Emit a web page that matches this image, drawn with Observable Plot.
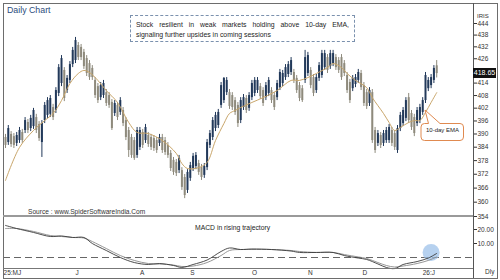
<!DOCTYPE html>
<html><head><meta charset="utf-8">
<script src="https://cdn.jsdelivr.net/npm/d3@7"></script>
<script src="https://cdn.jsdelivr.net/npm/@observablehq/plot@0.6"></script>
<style>
body{margin:0;background:#fff;}
#wrap{position:relative;width:500px;height:280px;overflow:hidden;font-family:"Liberation Sans",Arial,sans-serif;background:#fff;}
.abs{position:absolute;}
#wrap svg{position:absolute;}
</style></head><body>
<div id="wrap"></div>
<script>
// ---- data ----
const opens=[
388.4,386.1,389.8,388.8,385.7,387.0,390.7,391.6,395.3,392.5,
393.4,397.6,394.4,386.1,396.2,398.6,399.1,402.3,400.9,409.0,
413.8,420.2,410.4,415.3,423.1,425.1,432.7,431.7,429.2,426.1,
423.6,421.2,415.3,412.3,407.0,408.0,409.4,408.0,404.7,399.5,
403.3,400.0,400.9,396.2,391.6,388.4,387.0,380.3,383.9,390.7,
387.0,389.3,388.4,387.9,387.0,385.7,388.4,387.0,384.8,381.2,
378.1,377.2,373.6,373.6,370.6,365.0,370.2,374.5,375.4,376.7,
374.9,371.5,374.9,384.8,388.4,392.5,393.9,403.3,405.6,409.4,
409.4,408.0,405.6,403.3,396.2,402.3,406.6,401.9,407.0,409.0,
410.4,412.3,410.4,407.0,409.0,410.4,408.0,407.0,411.8,413.8,
416.7,418.2,419.2,419.2,416.3,412.8,411.3,415.3,418.7,420.2,
416.7,410.4,416.3,417.7,421.6,426.6,422.1,423.6,426.6,425.1,
426.6,423.6,417.7,414.3,411.3,413.3,415.3,418.7,412.8,409.4,
404.2,409.4,391.6,385.7,389.3,385.7,387.0,387.0,391.6,390.2,
382.5,392.5,394.8,397.2,407.0,399.5,397.6,394.8,396.2,400.0,
405.6,411.3,412.8,415.3,422.5];
const highs=[
389.8,393.9,391.1,390.2,390.7,393.0,392.1,397.6,396.7,398.6,
401.9,399.1,395.7,396.2,404.7,407.0,408.0,403.8,411.8,423.1,
427.6,421.6,417.7,424.6,431.7,436.8,434.2,433.2,430.7,427.6,
425.1,422.6,416.7,413.8,414.3,415.3,410.9,409.4,406.1,405.6,
404.7,407.0,402.3,397.6,393.0,389.8,388.4,393.0,393.0,392.1,
394.4,390.7,389.8,389.3,388.4,389.8,389.8,388.4,386.1,382.5,
379.4,378.5,380.3,374.9,371.9,374.0,377.2,381.2,381.6,378.1,
376.3,376.7,387.5,391.6,397.6,400.0,401.4,414.3,416.7,416.7,
410.9,409.4,407.0,404.7,407.0,408.5,408.0,409.4,415.3,416.7,
416.7,413.8,411.8,414.3,416.7,411.8,409.4,415.3,420.7,420.2,
423.1,424.6,426.6,420.7,417.7,414.3,412.8,430.2,429.2,421.6,
418.2,418.2,424.1,430.2,430.2,428.1,430.2,430.2,428.1,426.6,
428.1,425.1,419.2,415.8,417.7,418.2,420.7,420.2,414.3,410.9,
411.8,410.9,393.0,391.6,390.7,391.6,393.0,394.4,393.0,391.6,
393.9,400.0,402.3,407.0,409.0,400.9,399.1,402.3,403.8,407.0,
419.2,416.7,418.2,422.6,425.1];
const lows=[
383.4,384.8,383.9,383.4,384.3,385.7,385.7,390.2,390.2,391.1,
392.1,390.2,386.6,379.4,394.8,397.2,397.6,396.2,399.5,407.5,
412.3,405.1,409.0,413.8,421.6,423.6,425.1,425.1,420.7,417.2,
415.3,415.3,406.6,404.2,405.6,406.6,402.8,401.9,391.6,398.1,
396.2,398.6,393.4,387.0,379.4,379.0,378.1,379.0,382.5,383.4,
385.7,383.9,382.5,382.1,381.2,384.3,381.2,380.3,379.0,373.2,
371.5,371.0,372.3,365.0,361.5,363.7,368.9,373.2,374.0,371.5,
369.3,370.2,373.6,383.4,387.0,391.1,392.5,401.9,404.2,408.0,
401.4,400.9,398.6,393.0,394.8,400.9,399.5,400.5,405.6,407.5,
409.0,406.1,402.8,405.6,407.5,404.2,400.9,405.6,410.4,412.3,
415.3,416.7,417.7,413.8,409.0,405.1,404.7,413.8,417.2,411.3,
407.5,409.0,414.8,416.3,420.2,418.7,420.7,422.1,420.2,418.7,
415.3,417.2,409.0,404.2,409.9,411.8,413.8,410.4,402.8,401.4,
402.8,385.7,381.2,384.3,383.4,384.3,385.7,385.7,384.3,382.5,
381.2,391.1,393.4,395.7,394.8,391.6,388.8,393.4,394.8,398.6,
404.2,409.9,411.3,413.8,416.5];
const closes=[
384.8,392.5,385.2,384.8,389.3,391.6,387.0,396.2,391.6,397.2,
400.9,391.6,387.9,394.8,403.3,405.6,406.6,397.6,410.4,421.6,
426.1,406.6,416.3,423.1,430.2,435.2,426.6,426.6,422.1,418.7,
416.7,416.7,408.0,405.6,412.8,413.8,404.2,403.3,392.5,404.2,
397.6,405.6,394.8,388.4,382.5,380.3,379.0,391.6,391.6,384.8,
393.0,385.2,383.9,383.4,382.5,388.4,382.5,381.6,380.3,374.5,
372.8,372.3,379.0,366.3,362.8,372.8,375.8,379.9,380.3,372.8,
370.6,375.4,386.1,390.2,396.2,398.6,400.0,412.8,416.3,415.3,
402.8,402.3,400.0,394.8,405.6,407.0,400.9,408.0,413.8,415.3,
415.3,407.5,404.2,412.8,415.3,405.6,402.3,413.8,419.2,418.7,
421.6,423.1,425.1,415.3,410.4,406.6,405.6,426.6,427.6,412.8,
409.0,416.7,422.6,428.6,428.6,420.2,428.6,428.6,421.6,420.2,
416.7,418.7,410.4,405.6,416.3,416.7,419.2,411.8,404.2,402.8,
410.4,387.0,382.5,390.2,384.8,390.2,391.6,393.0,385.7,383.9,
392.5,398.6,400.9,405.6,396.2,393.0,390.2,400.9,402.3,405.6,
417.7,415.3,416.7,421.2,418.65];

const emaIdx=[0,5,10,14,17,20,23,26,28,30,33,36,40,44,47,51,56,61,63,65,69,72,75,78,80,82,84,88,92,97,102,105,108,111,115,117,120,122,125,129,131,135,137,139,141,144,146,148,150,152,154];
const emaVals=[369.3,383.9,391.6,396.2,399.5,405.6,413.8,418.7,420.2,419.2,415.3,410.4,404.7,395.3,390.7,390.2,387.0,381.2,376.7,374.5,374.9,377.2,387.0,394.8,399.5,400.9,402.3,404.7,407.0,410.4,415.3,415.3,416.7,418.7,421.6,423.6,421.6,418.7,415.3,411.8,407.0,399.5,395.3,391.6,393.0,395.3,396.2,396.2,400.0,404.7,409.4];

const macdIdx=[0,4,10,16,20,24,28,31,36,41,46,51,55,60,63,67,72,77,80,84,88,95,102,105,111,117,121,126,129,133,136,139,142,147,151,154];
const macdVals=[22.9,20.7,17.9,15.0,15.4,14.3,14.3,10.0,5.0,0.0,-3.6,-5.0,-4.3,-5.7,-7.1,-5.0,-1.8,4.3,6.8,5.7,6.1,5.7,4.6,3.6,3.6,3.6,1.4,-0.4,-1.4,-4.6,-7.1,-7.9,-5.0,-2.9,-0.4,2.9];
const signalVals=[20.7,20.7,18.6,15.7,15.0,14.3,13.9,11.4,6.4,1.4,-2.1,-4.3,-4.6,-5.4,-6.4,-6.1,-3.6,1.4,5.0,5.7,5.7,5.7,5.0,4.3,3.6,3.6,2.1,0.4,-0.7,-3.6,-5.7,-6.8,-6.1,-4.3,-2.1,0.4];

const priceTicks=[444,438,432,426,420,414,408,402,396,390,384,378,372,366,360,354];
const macdTicks=[10,20];
const monthPos=[-0.7,25,48,66,88,108,127.5,149];
const monthLabels=["25:MJ","J","A","S","O","N","D","26:J"];
const lastPrice=418.65;

// ---- build ----
const UP="#22395a", DOWN="#8e8a7c";
const N=closes.length;
const candles=closes.map((c,i)=>({i,o:opens[i],h:highs[i],l:lows[i],c}));
const ups=candles.filter(d=>d.c>=d.o), downs=candles.filter(d=>d.c<d.o);
const ema=emaIdx.map((i,k)=>({i,v:emaVals[k]}));
const macd=macdIdx.map((i,k)=>({i,m:macdVals[k],s:signalVals[k]}));
const xOpt={domain:[0,N-1],range:[5,436.2]};
const font={fontFamily:"Liberation Sans, Arial, sans-serif",fontSize:"6.5px",background:"transparent",overflow:"visible"};

const pricePlot=Plot.plot({
  width:500,height:217,marginLeft:3,marginRight:27,marginTop:3,marginBottom:1,
  style:font,
  x:{...xOpt,axis:null,label:null},
  y:{type:"log",domain:[354,444],range:[216,23],label:null},
  marks:[
    Plot.ruleX(downs,{x:"i",y1:"l",y2:"h",stroke:DOWN,strokeWidth:1}),
    Plot.ruleX(downs,{x:"i",y1:"o",y2:"c",stroke:DOWN,strokeWidth:2}),
    Plot.ruleX(ups,{x:"i",y1:"l",y2:"h",stroke:UP,strokeWidth:1}),
    Plot.ruleX(ups,{x:"i",y1:"o",y2:"c",stroke:UP,strokeWidth:2}),
    Plot.line(ema,{x:"i",y:"v",stroke:"#c9a66b",strokeWidth:1,curve:"catmull-rom"}),
    Plot.axisY({anchor:"right",label:null,ticks:priceTicks,tickFormat:d=>(Math.abs(d-lastPrice)<3?"":String(d)),tickSize:3,tickPadding:1,color:"#333",fontSize:6.5})
  ]
});
pricePlot.style.left="0px";pricePlot.style.top="0px";

const macdPlot=Plot.plot({
  width:500,height:63,marginLeft:3,marginRight:27,marginTop:0,marginBottom:12,
  style:font,
  x:{...xOpt,label:null},
  y:{domain:[0,20],range:[40,12],label:null},
  marks:[
    Plot.ruleY([0],{stroke:"#666",strokeWidth:1,strokeDasharray:"7,4"}),
    Plot.dot([{i:152,v:3.5}],{x:"i",y:"v",r:8.5,fill:"#9dc1e9",fillOpacity:0.75,stroke:null}),
    Plot.line(macd,{x:"i",y:"s",stroke:"#8a8a8a",strokeWidth:0.9,curve:"catmull-rom"}),
    Plot.line(macd,{x:"i",y:"m",stroke:"#3a3a3a",strokeWidth:0.9,curve:"catmull-rom"}),
    Plot.axisY({anchor:"right",label:null,ticks:macdTicks,tickFormat:d=>d.toFixed(2),tickSize:3,tickPadding:1,color:"#333",fontSize:6.5}),
    Plot.axisX({anchor:"bottom",label:null,ticks:monthPos,tickFormat:(d,k)=>monthLabels[k],tickSize:0,tickPadding:2,textAnchor:"start",color:"#333",fontSize:6.5})
  ]
});
macdPlot.style.left="0px";macdPlot.style.top="217px";

const wrap=document.getElementById("wrap");
wrap.appendChild(pricePlot);
wrap.appendChild(macdPlot);

function add(html){wrap.insertAdjacentHTML("beforeend",html);}
// frame lines
add('<div class="abs" style="left:3px;top:3px;width:493px;height:274px;border:1px solid #6d6d6d;"></div>');
add('<div class="abs" style="left:473px;top:3px;width:1px;height:275px;background:#555;"></div>');
add('<div class="abs" style="left:3px;top:215px;width:470px;height:2px;background:#9a9a9a;"></div>');
add('<div class="abs" style="left:3px;top:268px;width:470px;height:1px;background:#777;"></div>');
// titles
add('<div class="abs" style="left:7px;top:5px;font-size:8.8px;color:#2c4d7c;">Daily Chart</div>');
add('<div class="abs" style="left:130px;top:15px;width:213px;height:17px;padding:4px 5px;border:1px dashed #7b91ae;font-size:6.9px;line-height:9.5px;color:#1d1d1d;background:#fff;">'+
  '<div style="text-align:justify;text-align-last:justify;">Stock resilient in weak markets holding above 10-day EMA,</div>'+
  '<div>signaling further upsides in coming sessions</div></div>');
add('<div class="abs" style="left:28px;top:208px;font-size:6.6px;color:#333;">Source : www.SpiderSoftwareIndia.Com</div>');
add('<div class="abs" style="left:195px;top:224px;font-size:6.8px;color:#1d1d1d;">MACD in rising trajectory</div>');
add('<div class="abs" style="left:477px;top:13px;font-size:6px;color:#333;">IRIS</div>');
add('<div class="abs" style="left:485px;top:268px;font-size:6.5px;line-height:8px;color:#333;">Dly</div>');
const yLast=pricePlot.scale("y").apply(lastPrice);
add('<div class="abs" style="left:473px;top:'+(yLast-5)+'px;width:23px;height:10px;background:#111;color:#fff;font-size:7px;line-height:10px;text-align:center;">'+lastPrice.toFixed(2)+'</div>');
// callout
add('<svg class="abs" style="left:418px;top:106px" width="50" height="38"><path d="M10.5,17.5 L7,4 L22,17.5 L42,17.5 Q45.5,17.5 45.5,21 L45.5,31 Q45.5,34.5 42,34.5 L6.5,34.5 Q3,34.5 3,31 L3,21 Q3,17.5 6.5,17.5 Z" fill="#fff" stroke="#e08a50" stroke-width="1"/></svg>');
add('<div class="abs" style="left:421px;top:127px;width:43px;text-align:center;font-size:6px;color:#222;">10-day EMA</div>');
</script>
</body></html>
